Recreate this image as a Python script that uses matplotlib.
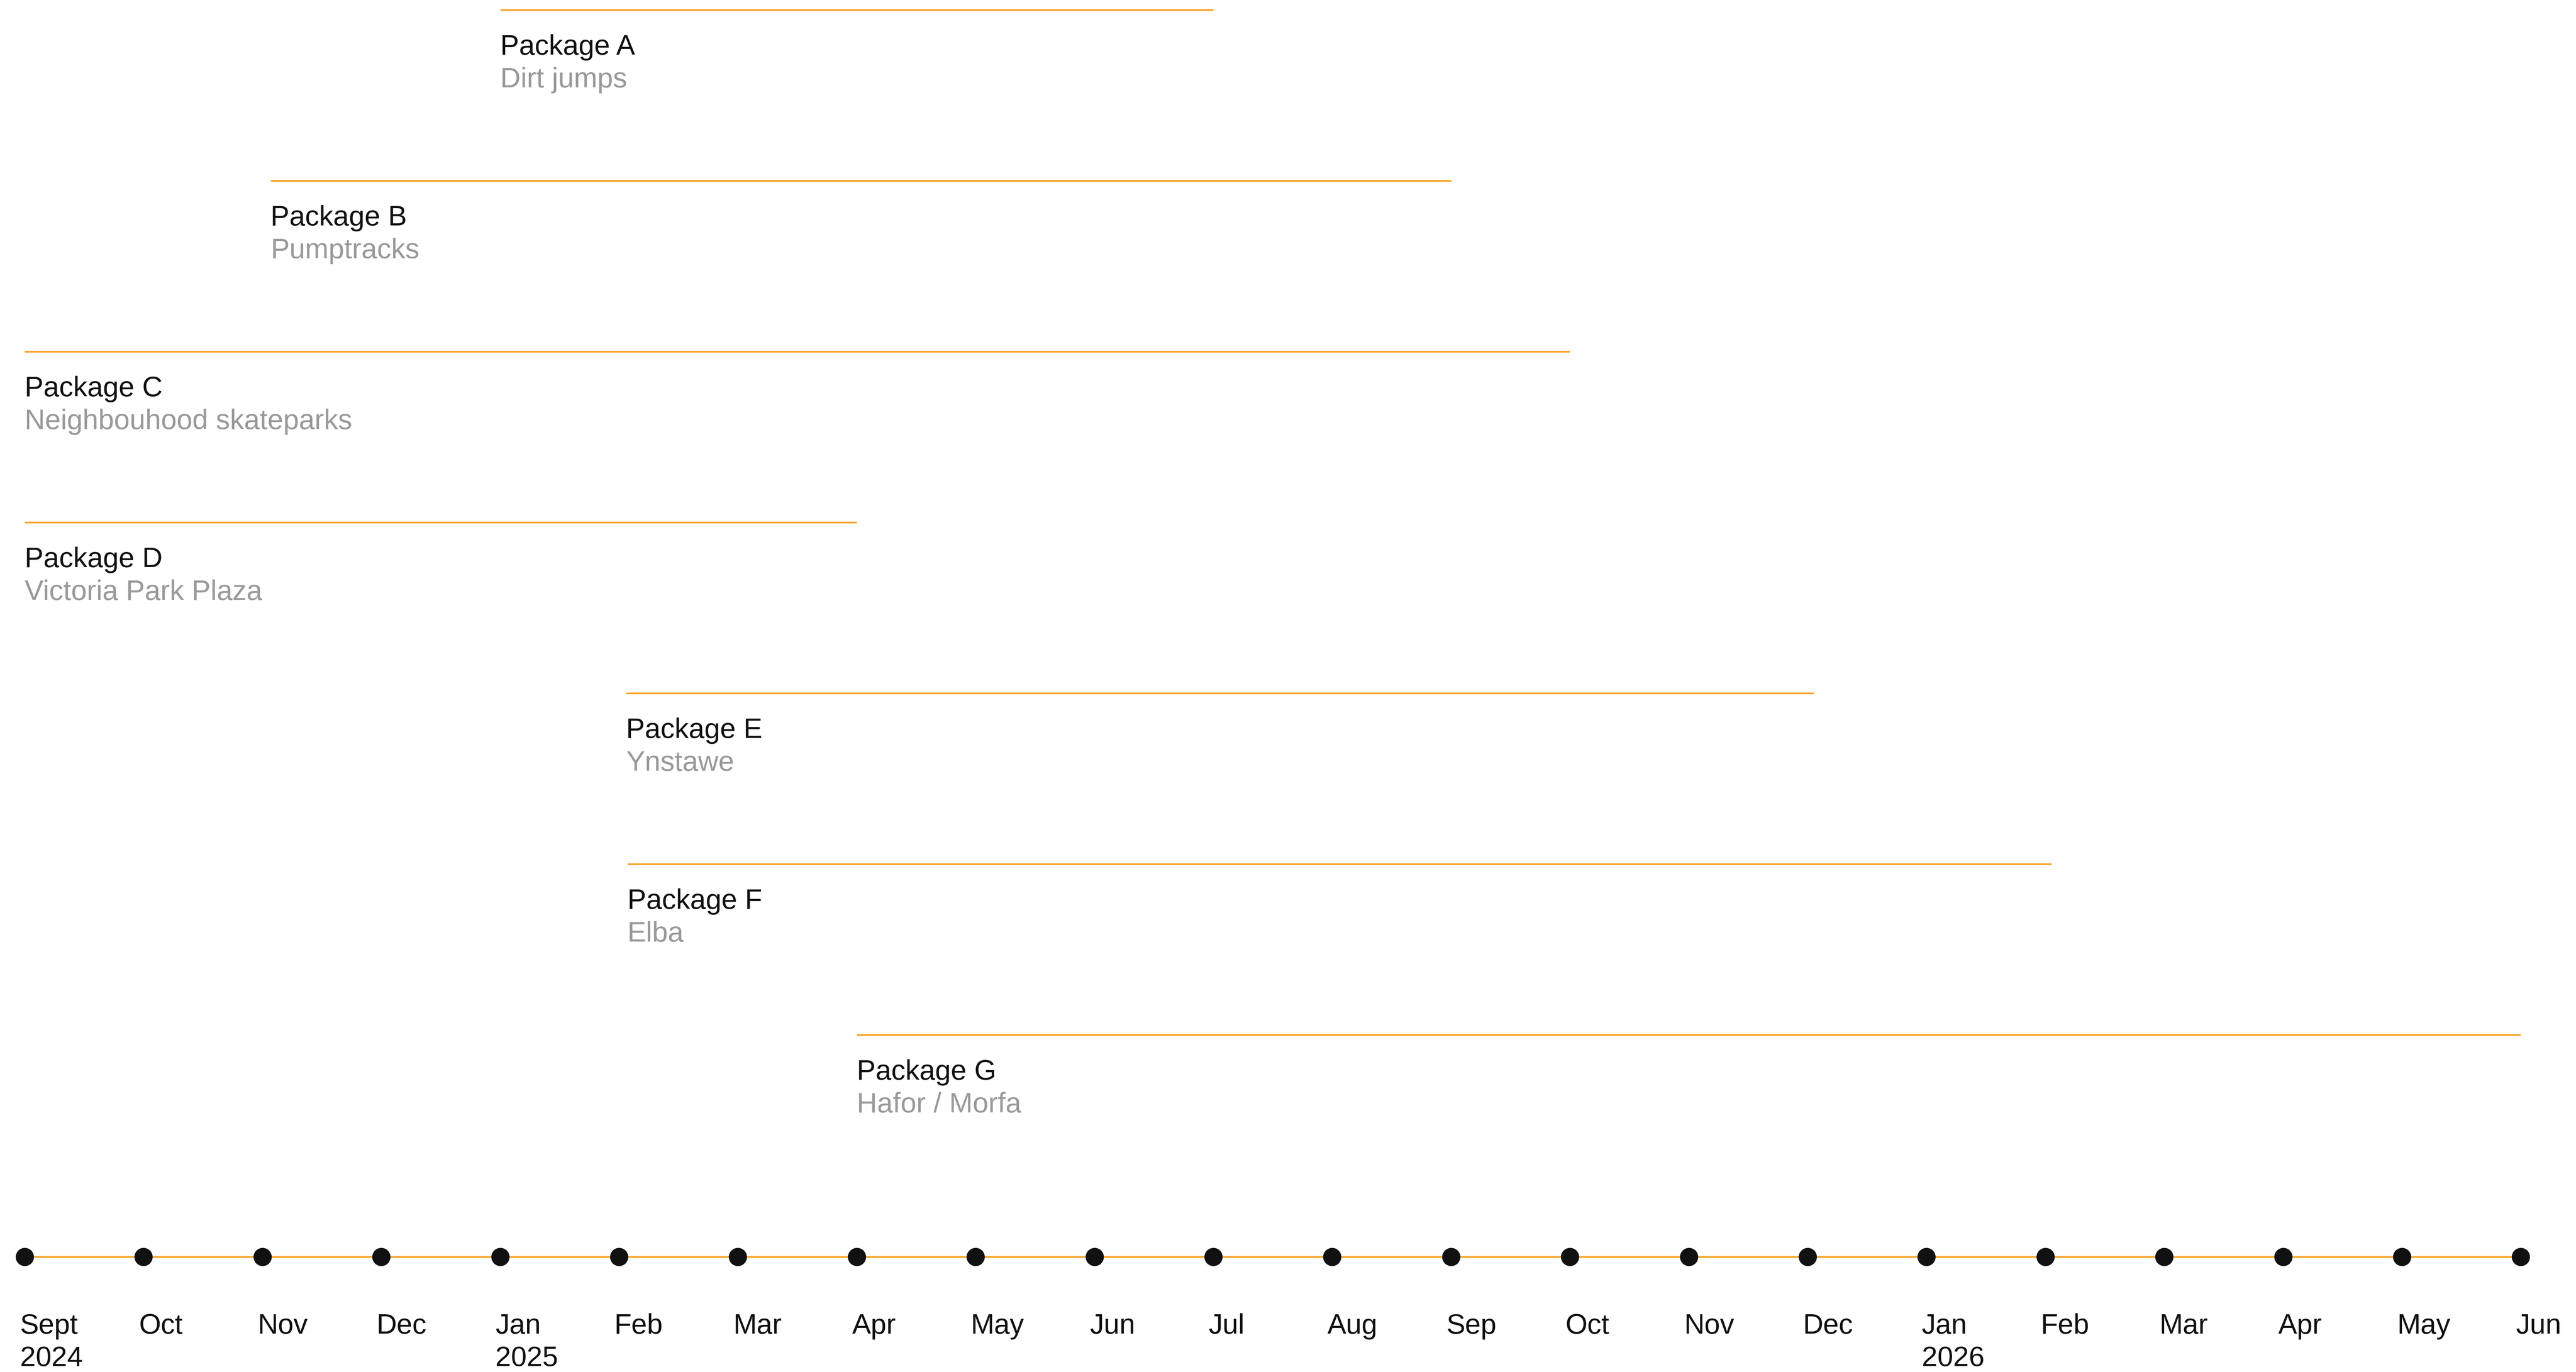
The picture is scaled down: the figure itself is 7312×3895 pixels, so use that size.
import matplotlib
matplotlib.use("Agg")
import matplotlib.pyplot as plt

# timeline months (axis dots)
months = ["Sept", "Oct", "Nov", "Dec", "Jan", "Feb", "Mar", "Apr", "May", "Jun", "Jul", "Aug",
          "Sep", "Oct", "Nov", "Dec", "Jan", "Feb", "Mar", "Apr", "May", "Jun"]
years = {0: "2024", 4: "2025", 16: "2026"}

# work packages: start / end as month position on the timeline above (0 = Sept 2024)
packages = ["Package A", "Package B", "Package C", "Package D", "Package E", "Package F", "Package G"]
descriptions = ["Dirt jumps", "Pumptracks", "Neighbouhood skateparks", "Victoria Park Plaza",
                "Ynstawe", "Elba", "Hafor / Morfa"]
starts = [4, 2.07, 0, 0, 5.06, 5.07, 7]
ends = [10, 12, 13, 7, 15.05, 17.05, 21]

ORANGE = "#F9A52B"
DARK = "#111111"
GREY = "#999999"

plt.rcParams["font.family"] = ["Liberation Sans", "DejaVu Sans"]

W, H, DPI = 7312, 3895, 400
fig = plt.figure(figsize=(W / DPI, H / DPI), dpi=DPI)
ax = fig.add_axes([0, 0, 1, 1])
ax.set_axis_off()

px_month = 337.4
x0 = 70
ax.set_xlim(-x0 / px_month, (W - x0) / px_month)
px_row = 485
y0 = 28
ax.set_ylim((H - y0) / px_row, -y0 / px_row)
axis_row = (3568 - y0) / px_row

fs = 14.4
for i, (name, desc, s, e) in enumerate(zip(packages, descriptions, starts, ends)):
    ax.plot([s, e], [i, i], color=ORANGE, lw=0.9, solid_capstyle="butt")
    ax.annotate(name, (s, i), xytext=(0, -22.9), textcoords="offset points",
                ha="left", va="baseline", fontsize=fs, color=DARK)
    ax.annotate(desc, (s, i), xytext=(0, -39.6), textcoords="offset points",
                ha="left", va="baseline", fontsize=fs, color=GREY)

idx = list(range(len(months)))
ax.plot([idx[0], idx[-1]], [axis_row, axis_row], color=ORANGE, lw=0.9, zorder=1)
ax.plot(idx, [axis_row] * len(idx), "o", color=DARK, ms=8.3, zorder=2)

for i, m in enumerate(months):
    ax.annotate(m, (i, axis_row), xytext=(-2.4, -39.2), textcoords="offset points",
                ha="left", va="baseline", fontsize=fs, color=DARK)
    if i in years:
        ax.annotate(years[i], (i, axis_row), xytext=(-2.4, -55.8), textcoords="offset points",
                    ha="left", va="baseline", fontsize=fs, color=DARK)

fig.savefig("out.png", dpi=DPI, facecolor="white")
